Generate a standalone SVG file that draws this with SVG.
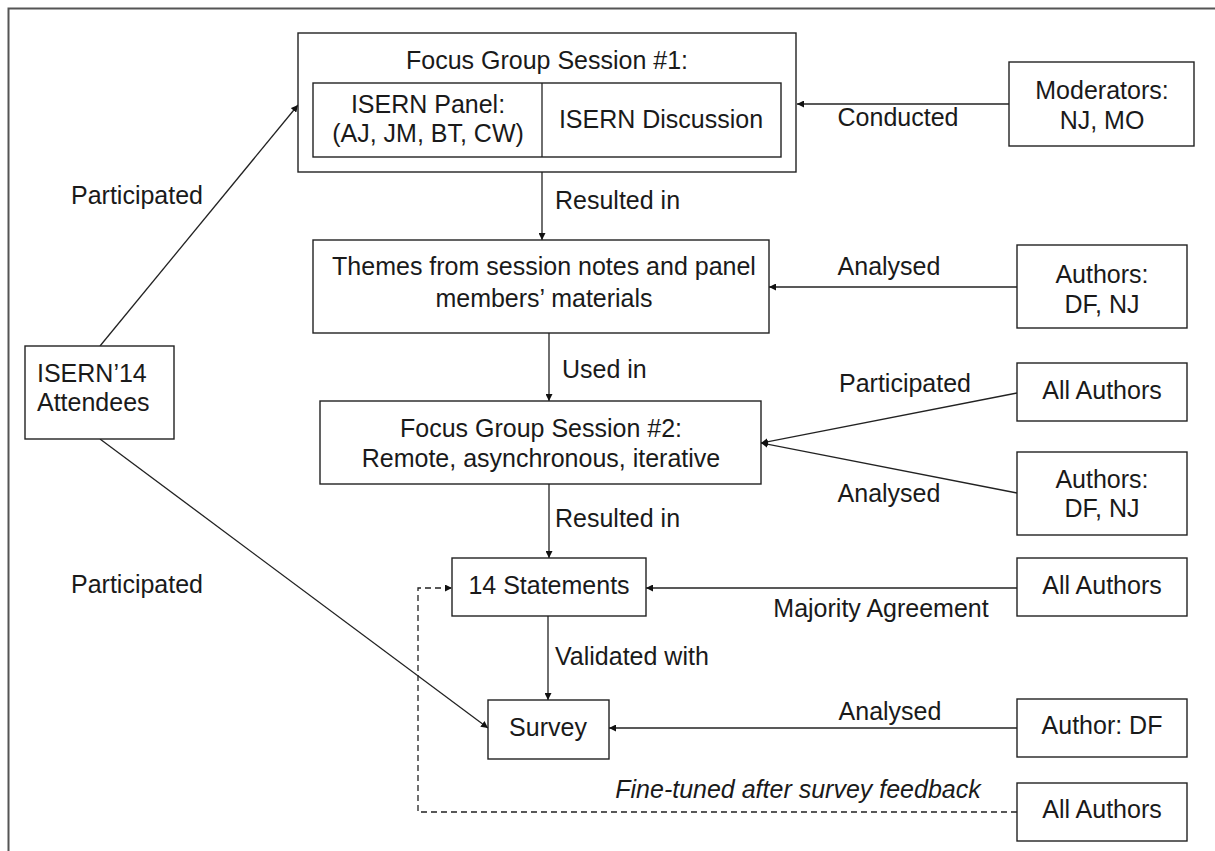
<svg xmlns="http://www.w3.org/2000/svg" width="1215" height="851" viewBox="0 0 1215 851">
<defs>
<marker id="ah" viewBox="0 0 10 10" refX="10" refY="5" markerWidth="7" markerHeight="7" markerUnits="userSpaceOnUse" orient="auto">
<path d="M0,0 L10,5 L0,10 z" fill="#111"/>
</marker>
<style>
text{font-family:"Liberation Sans",Arial,sans-serif;font-size:25px;fill:#1a1a1a}
.c{text-anchor:middle}
.box{fill:#fff;stroke:#222;stroke-width:1.4}
.ln{fill:none;stroke:#222;stroke-width:1.3}
.ar{marker-end:url(#ah)}
.dash{stroke-dasharray:6,4}
.it{font-style:italic}
</style>
</defs>
<rect width="1215" height="851" fill="#fff"/>
<rect x="8.5" y="8.5" width="1230" height="860" fill="none" stroke="#555" stroke-width="2"/>

<g id="connectors">
<line class="ln ar" x1="1009" y1="104" x2="797" y2="104"/>
<line class="ln ar" x1="542" y1="172" x2="542" y2="240"/>
<line class="ln ar" x1="1017" y1="287" x2="769" y2="287"/>
<line class="ln ar" x1="549" y1="333" x2="549" y2="401"/>
<line class="ln ar" x1="1017" y1="393" x2="761" y2="443"/>
<line class="ln ar" x1="1017" y1="493" x2="761" y2="443"/>
<line class="ln ar" x1="549" y1="484" x2="549" y2="558"/>
<line class="ln ar" x1="1017" y1="588" x2="646" y2="588"/>
<line class="ln ar" x1="548" y1="616" x2="548" y2="700"/>
<line class="ln ar" x1="1017" y1="728" x2="609" y2="728"/>
<line class="ln ar" x1="100" y1="346" x2="298" y2="105"/>
<line class="ln ar" x1="100" y1="439" x2="488" y2="728"/>
<polyline class="ln ar dash" points="1017,812 418,812 418,588 452,588"/>
<text x="898" y="126" class="c">Conducted</text>
<text x="555" y="209">Resulted in</text>
<text x="889" y="275" class="c">Analysed</text>
<text x="562" y="378">Used in</text>
<text x="905" y="392" class="c">Participated</text>
<text x="889" y="502" class="c">Analysed</text>
<text x="555" y="527">Resulted in</text>
<text x="881" y="617" class="c">Majority Agreement</text>
<text x="555" y="665">Validated with</text>
<text x="890" y="720" class="c">Analysed</text>
<text x="798" y="798" class="c it">Fine-tuned after survey feedback</text>
<text x="137" y="204" class="c">Participated</text>
<text x="137" y="593" class="c">Participated</text>
</g>

<g id="fgs1">
<rect class="box" x="298" y="33" width="498" height="139"/>
<text x="547" y="69" class="c">Focus Group Session #1:</text>
<rect class="box" x="313" y="83" width="468" height="74"/>
<line class="ln" x1="542" y1="83" x2="542" y2="157" stroke-width="2"/>
<text x="428" y="113" class="c">ISERN Panel:</text>
<text x="428" y="142" class="c">(AJ, JM, BT, CW)</text>
<text x="661" y="128" class="c">ISERN Discussion</text>
</g>

<g id="moderators">
<rect class="box" x="1009" y="62" width="185" height="84"/>
<text x="1102" y="99" class="c">Moderators:</text>
<text x="1102" y="129" class="c">NJ, MO</text>
</g>

<g id="themes">
<rect class="box" x="313" y="240" width="456" height="93"/>
<text x="544" y="275" class="c">Themes from session notes and panel</text>
<text x="544" y="307" class="c">members’ materials</text>
</g>

<g id="authors1">
<rect class="box" x="1017" y="245" width="170" height="83"/>
<text x="1102" y="283" class="c">Authors:</text>
<text x="1102" y="313" class="c">DF, NJ</text>
</g>

<g id="attendees">
<rect class="box" x="25" y="346" width="149" height="93"/>
<text x="37" y="382">ISERN’14</text>
<text x="37" y="411">Attendees</text>
</g>

<g id="fgs2">
<rect class="box" x="320" y="401" width="441" height="83"/>
<text x="541" y="437" class="c">Focus Group Session #2:</text>
<text x="541" y="467" class="c">Remote, asynchronous, iterative</text>
</g>

<g id="allauthors1">
<rect class="box" x="1017" y="363" width="170" height="58"/>
<text x="1102" y="399" class="c">All Authors</text>
</g>

<g id="authors2">
<rect class="box" x="1017" y="452" width="170" height="83"/>
<text x="1102" y="488" class="c">Authors:</text>
<text x="1102" y="517" class="c">DF, NJ</text>
</g>

<g id="statements">
<rect class="box" x="452" y="558" width="194" height="58"/>
<text x="549" y="594" class="c">14 Statements</text>
</g>

<g id="allauthors2">
<rect class="box" x="1017" y="558" width="170" height="58"/>
<text x="1102" y="594" class="c">All Authors</text>
</g>

<g id="survey">
<rect class="box" x="488" y="700" width="121" height="59"/>
<text x="548" y="736" class="c">Survey</text>
</g>

<g id="authordf">
<rect class="box" x="1017" y="699" width="170" height="58"/>
<text x="1102" y="734" class="c">Author: DF</text>
</g>

<g id="allauthors3">
<rect class="box" x="1017" y="783" width="170" height="58"/>
<text x="1102" y="818" class="c">All Authors</text>
</g>
</svg>
